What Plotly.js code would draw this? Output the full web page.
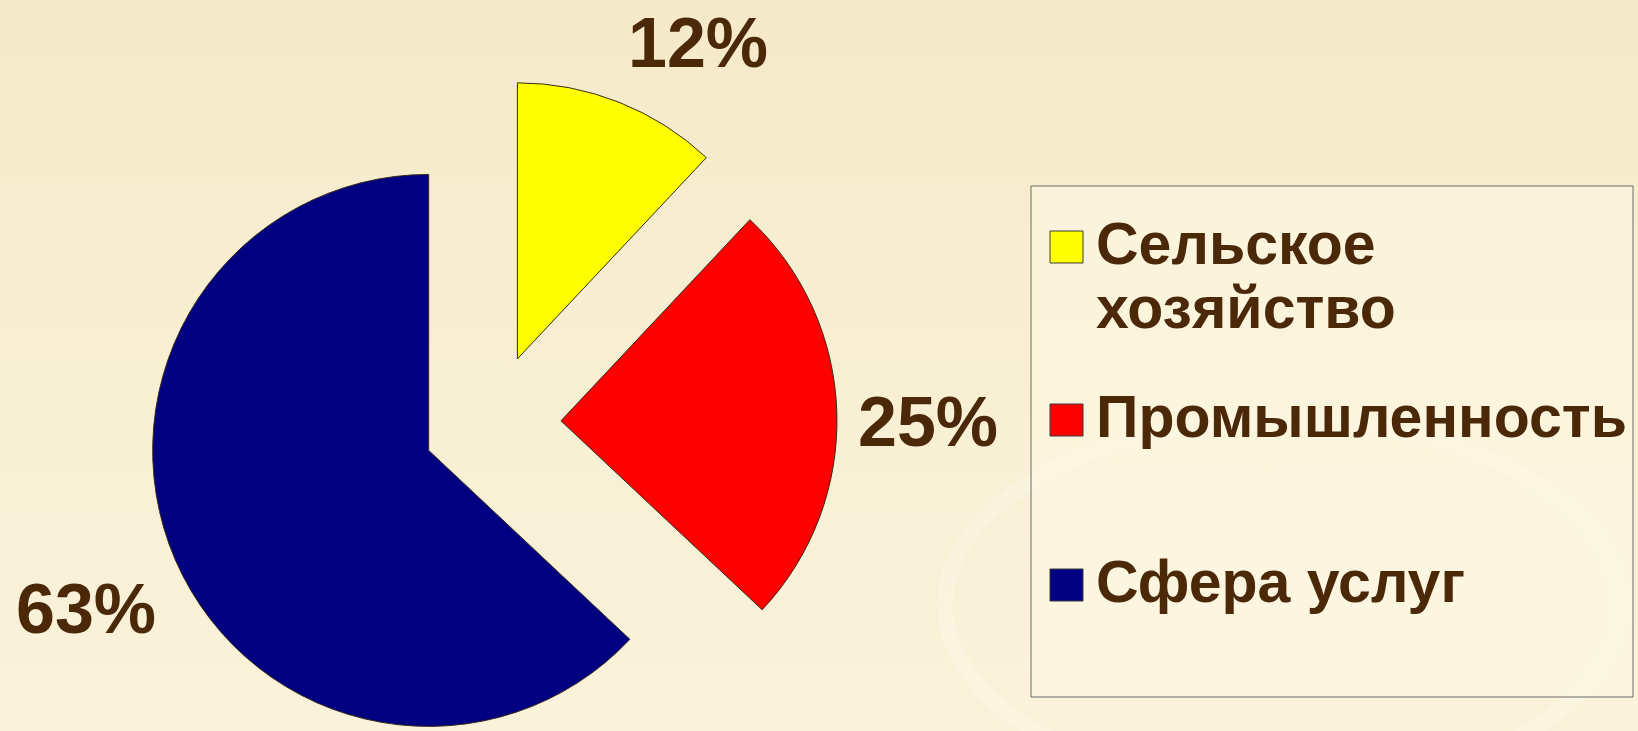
<!DOCTYPE html>
<html>
<head>
<meta charset="utf-8">
<script src="https://cdn.plot.ly/plotly-3.0.1.min.js"></script>
<style>
  html, body { margin: 0; padding: 0; width: 1638px; height: 731px; overflow: hidden; }
  #wrap { width: 1638px; height: 731px; overflow: hidden;
    background: linear-gradient(to bottom, #F5E9C9 0%, #F8EFD3 50%, #FAF2DA 100%); }
  #chart { width: 1638px; height: 768px; }
</style>
</head>
<body>
<div id="wrap"><div id="chart"></div></div>
<script>
// ---- data ----
var sectors = ['Сельское хозяйство', 'Промышленность', 'Сфера услуг'];
var shares = [12, 25, 63];
var legendLines = [['Сельское', 'хозяйство'], ['Промышленность'], ['Сфера услуг']];
var sliceColors = ['#FFFF00', '#FF0000', '#000080'];
var pulls = [0.25, 0.25, 0.25];

// ---- layout helpers (figure is 1638 x 768 px, margins 0) ----
var W = 1638, H = 768;
function px(x) { return x / W; }
function py(y) { return 1 - y / H; }

var textColor = '#4A2808';
var fontFam = '"Liberation Sans", Arial, sans-serif';
var labelSize = 70;

// pie box (pixels)
var boxCx = 492, boxSize = 690;
var domX = [px(boxCx - boxSize / 2), px(boxCx + boxSize / 2)];
var domY = [0, boxSize / H];

var trace = {
  type: 'pie',
  labels: sectors,
  values: shares,
  sort: false,
  direction: 'clockwise',
  rotation: 0,
  pull: pulls,
  marker: { colors: sliceColors, line: { color: '#3a2a1a', width: 1 } },
  textinfo: 'none',
  hoverinfo: 'none',
  showlegend: false,
  domain: { x: domX, y: domY }
};

// outside-end percentage labels, derived from the shares and pie geometry
var total = shares.reduce(function (a, b) { return a + b; }, 0);
var maxPull = Math.max.apply(null, pulls);
var R = boxSize / (2 + 2 * maxPull);
var CX = boxCx, CY = H - boxSize / 2;
var annotations = [];
var cum = 0;
for (var i = 0; i < shares.length; i++) {
  var mid = (cum + shares[i] / 2) / total * 2 * Math.PI; // clockwise from top
  cum += shares[i];
  var dx = Math.sin(mid), dy = -Math.cos(mid);
  var k = pulls[i] + 1.07;
  var lx = CX + dx * k * R, ly = CY + dy * k * R;
  var ya = dy < -0.3 ? 'bottom' : (dy > 0.3 ? 'top' : 'middle');
  annotations.push({
    xref: 'paper', yref: 'paper', x: px(lx), y: py(ly),
    xanchor: dx > 0.3 ? 'left' : (dx < -0.3 ? 'right' : 'center'),
    yanchor: ya,
    yshift: ya === 'middle' ? -0.15 * labelSize : 0,
    showarrow: false,
    text: Math.round(shares[i] / total * 100) + '%',
    font: { family: fontFam, size: labelSize, color: textColor, weight: 700 }
  });
}

// decorative background swoosh + custom legend built from the data arrays
var shapes = [
  { type: 'circle', xref: 'paper', yref: 'paper', layer: 'below',
    x0: px(945), x1: px(1620), y0: py(420), y1: py(790),
    line: { color: 'rgba(255,255,255,0.22)', width: 16 } },
  { type: 'rect', xref: 'paper', yref: 'paper',
    x0: px(1031), x1: px(1633), y0: py(186), y1: py(697),
    line: { color: '#6b6b6b', width: 1 }, fillcolor: 'rgba(253,249,228,0.6)', layer: 'below' }
];
var rowY = [247, 420, 585];
var lineGap = 64;
for (var i2 = 0; i2 < sectors.length; i2++) {
  shapes.push({
    type: 'rect', xref: 'paper', yref: 'paper',
    x0: px(1050), x1: px(1083), y0: py(rowY[i2] - 16), y1: py(rowY[i2] + 16),
    fillcolor: sliceColors[i2], line: { color: '#3a3a3a', width: 1 }
  });
  for (var j = 0; j < legendLines[i2].length; j++) {
    annotations.push({
      xref: 'paper', yref: 'paper', x: px(1094), y: py(rowY[i2] - 3 + j * lineGap),
      xanchor: 'left', yanchor: 'middle', showarrow: false,
      text: legendLines[i2][j],
      font: { family: fontFam, size: 59, color: textColor, weight: 700 }
    });
  }
}

var layout = {
  width: W, height: H,
  margin: { l: 0, r: 0, t: 0, b: 0 },
  paper_bgcolor: 'rgba(0,0,0,0)',
  plot_bgcolor: 'rgba(0,0,0,0)',
  showlegend: false,
  shapes: shapes,
  annotations: annotations
};

Plotly.newPlot('chart', [trace], layout, { displayModeBar: false, staticPlot: true });
</script>
</body>
</html>
